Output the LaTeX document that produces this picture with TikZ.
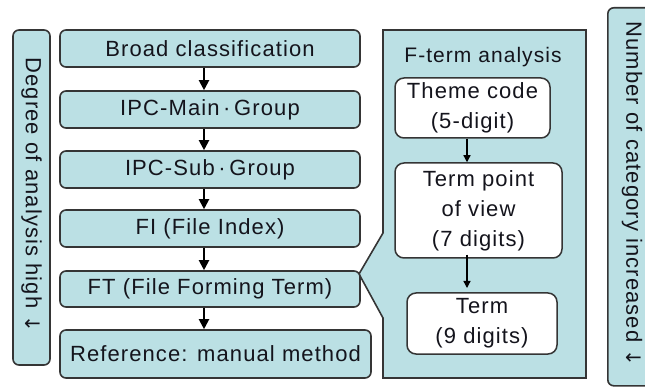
\documentclass[tikz,border=0pt]{standalone}
\usepackage{fontspec}
\setmainfont{Liberation Sans}
\newfontfamily\labfont[LetterSpace=5]{Liberation Sans}
\newfontfamily\arrfont{DejaVu Sans}
\usetikzlibrary{arrows.meta}
\definecolor{boxfill}{HTML}{BBE0E4}
\definecolor{edge}{HTML}{353535}
\definecolor{txt}{HTML}{14141C}
\tikzset{
  mbox/.style={draw=edge, line width=1.6pt, fill=boxfill, rounded corners=6pt,
    inner sep=0pt, text=txt, font=\labfont\fontsize{22}{29}\selectfont},
  wbox/.style={draw=edge, line width=1.5pt, fill=white, rounded corners=9pt,
    inner sep=0pt, text=txt, align=center, font=\labfont\fontsize{22}{30}\selectfont},
  sidebox/.style={draw=edge, line width=1.6pt, fill=boxfill, rounded corners=6pt, inner sep=0pt},
  sidetext/.style={text=txt, rotate=-90, inner sep=0pt, font=\labfont\fontsize{22}{26}\selectfont},
  arr/.style={line width=2pt, draw=black, -{Triangle[length=10pt,width=10pt]}},
  arrs/.style={line width=1.3pt, draw=black, -{Triangle[length=7pt,width=7pt]}},
}
\begin{document}
\begin{tikzpicture}[x=1pt,y=-1pt]
\useasboundingbox (0,0) rectangle (645,387);
% side boxes
\node[sidebox, minimum width=37, minimum height=335] (lbox) at (31.5,197.5) {};
\node[sidetext] (ltxt) at (31.5,195) {Degree of analysis high {\arrfont\fontsize{20}{24}\selectfont ↓}};
\node[sidebox, minimum width=50, minimum height=378, anchor=north west] (rbox) at (607,7) {};
\node[sidetext] (rtxt) at (632,194) {Number of category increased {\arrfont\fontsize{20}{24}\selectfont ↓}};
% F-term panel
\draw[draw=edge, line width=1.6pt, fill=boxfill] (383,30) -- (586,30) -- (586,378) -- (383,378) -- (383,318) -- (359,274) -- (383,233) -- cycle;
\node[text=txt, inner sep=0pt, font=\labfont\fontsize{21}{26}\selectfont] (ftitle) at (483,57) {F-term analysis};
\node[wbox, minimum width=155, minimum height=60] (theme) at (472.5,108) {Theme code\\(5-digit)};
\node[wbox, minimum width=167, minimum height=95] (tpv) at (478.5,210.5) {Term point\\of view\\(7 digits)};
\node[wbox, minimum width=150, minimum height=61] (term) at (482,323.5) {Term\\(9 digits)};
\coordinate (tend) at (467,288);
\draw[arrs] (theme.south -| tend) -- (tpv.north -| tend);
\draw[arrs] ([yshift=4pt]tpv.south -| tend) -- (tend);
% main column
\node[mbox, minimum width=300, minimum height=37] (b1) at (210,48.5) {Broad classification};
\node[mbox, minimum width=300, minimum height=37] (b2) at (210,109.5) {IPC-Main\,·\,Group};
\node[mbox, minimum width=300, minimum height=37] (b3) at (210,169.5) {IPC-Sub\,·\,Group};
\node[mbox, minimum width=300, minimum height=37] (b4) at (210,228.5) {FI (File Index)};
\node[mbox, minimum width=300, minimum height=36] (b5) at (210,289) {FT (File Forming Term)};
\node[mbox, minimum width=311, minimum height=48] (b6) at (215.5,354) {Reference: manual method};
\draw[arr] ([xshift=-6pt]b1.south) -- ([xshift=-6pt]b2.north);
\draw[arr] ([xshift=-6pt]b2.south) -- ([xshift=-6pt]b3.north);
\draw[arr] ([xshift=-6pt]b3.south) -- ([xshift=-6pt]b4.north);
\draw[arr] ([xshift=-6pt]b4.south) -- ([xshift=-6pt]b5.north);
\draw[arr] ([xshift=-6pt]b5.south) -- ([xshift=-11.5pt]b6.north);
\end{tikzpicture}
\end{document}
